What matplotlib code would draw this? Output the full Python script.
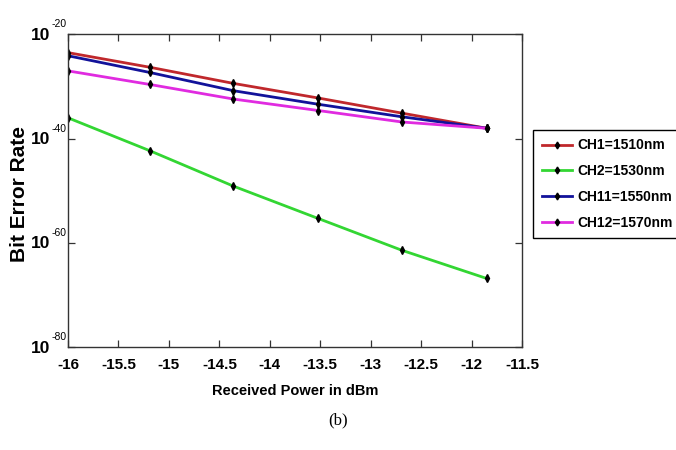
import matplotlib
matplotlib.use("Agg")
import matplotlib.pyplot as plt
from matplotlib.ticker import FixedLocator, FuncFormatter, NullLocator, NullFormatter
from matplotlib.transforms import blended_transform_factory, ScaledTranslation

# Received power (dBm) at each measurement point
power_dbm = [-16.0, -15.19, -14.36, -13.52, -12.69, -11.85]

# log10 of the bit error rate for each channel
ch1_log_ber = [-23.5, -26.3, -29.4, -32.2, -35.1, -38.0]
ch2_log_ber = [-36.0, -42.3, -49.1, -55.3, -61.4, -66.8]
ch11_log_ber = [-24.1, -27.3, -30.8, -33.4, -35.8, -38.0]
ch12_log_ber = [-27.0, -29.6, -32.4, -34.6, -36.8, -38.0]

series_labels = ["CH1=1510nm", "CH2=1530nm", "CH11=1550nm", "CH12=1570nm"]
series_colors = ["#c0282c", "#33d633", "#12129a", "#e02be0"]

x_ticks = [-16, -15.5, -15, -14.5, -14, -13.5, -13, -12.5, -12, -11.5]
y_tick_exponents = [-80, -60, -40, -20]

sans = "Liberation Sans"
plt.rcParams["font.family"] = [sans, "DejaVu Sans"]
plt.rcParams["axes.unicode_minus"] = False

fig = plt.figure(figsize=(6.76, 4.5), dpi=100)
ax = fig.add_axes([0.1006, 0.2282, 0.6716, 0.6954])

all_series = [ch1_log_ber, ch2_log_ber, ch11_log_ber, ch12_log_ber]
for vals, lab, col in zip(all_series, series_labels, series_colors):
    ber = [10.0 ** v for v in vals]
    ax.plot(power_dbm, ber, color=col, lw=2.0, label=lab,
            marker="d", ms=4, mfc="black", mec="black")

ax.set_yscale("log")
ax.set_xlim(-16, -11.5)
ax.set_ylim(1e-80, 1e-20)

ax.xaxis.set_major_locator(FixedLocator(x_ticks))
ax.xaxis.set_major_formatter(FuncFormatter(lambda v, p: f"{v:g}"))
ax.yaxis.set_major_locator(FixedLocator([10.0 ** e for e in y_tick_exponents]))
ax.yaxis.set_minor_locator(NullLocator())
ax.yaxis.set_major_formatter(NullFormatter())

# power-of-ten labels: bold base with a small superscript exponent
ylab_trans = blended_transform_factory(ax.transAxes, ax.transData)
for e in y_tick_exponents:
    base_tr = ylab_trans + ScaledTranslation(-18 / 100, -1 / 100, fig.dpi_scale_trans)
    ax.text(0, 10.0 ** e, "10", transform=base_tr, ha="right", va="center",
            fontsize=12.5, fontweight="bold")
    exp_tr = ylab_trans + ScaledTranslation(-16 / 100, 10 / 100, fig.dpi_scale_trans)
    ax.text(0, 10.0 ** e, f"{e}", transform=exp_tr, ha="left", va="center",
            fontsize=7.5)

ax.tick_params(axis="both", which="major", direction="in", length=5,
               top=True, right=True, width=0.9, color="#333333")
ax.tick_params(axis="x", labelsize=11, pad=8)
for lab in ax.get_xticklabels():
    lab.set_fontweight("bold")
for s in ax.spines.values():
    s.set_color("#333333")
    s.set_linewidth(1.0)

ax.set_xlabel("Received Power in dBm", fontsize=10.5, fontweight="bold", labelpad=8)
ax.set_ylabel("Bit Error Rate", fontsize=15, fontweight="bold")
ax.yaxis.set_label_coords(-0.085, 0.49)

leg = ax.legend(loc="upper left", bbox_to_anchor=(0.789, 0.711),
                bbox_transform=fig.transFigure,
                prop={"weight": "bold", "size": 10},
                frameon=True, fancybox=False, framealpha=1,
                edgecolor="black", handlelength=2.2, handletextpad=0.4,
                labelspacing=0.85, borderpad=0.6, borderaxespad=0)
leg.get_frame().set_linewidth(1.0)
for h in leg.legend_handles:
    h.set_markersize(3.5)

fig.text(0.5, 0.065, "(b)", ha="center", va="center", fontsize=12,
         family="Liberation Serif")

fig.savefig("out.png", dpi=100)
